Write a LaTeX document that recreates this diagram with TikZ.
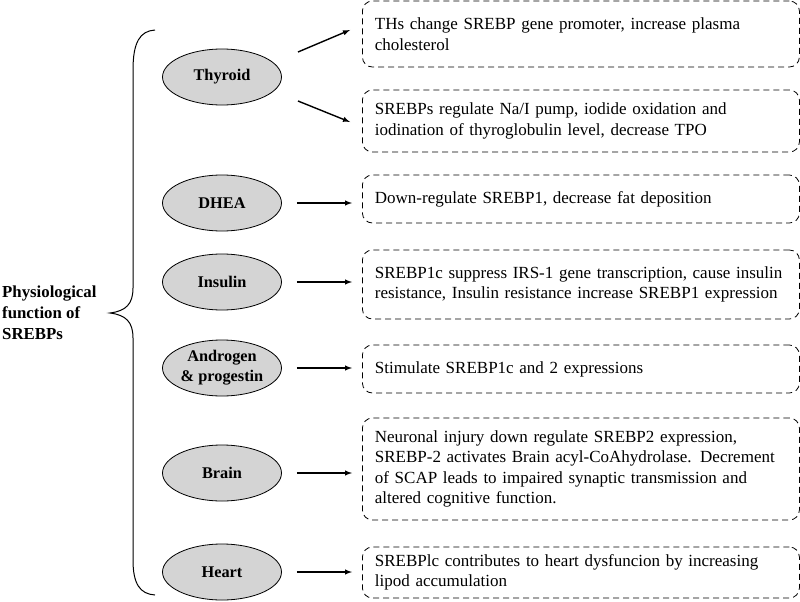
\documentclass[tikz,border=0pt]{standalone}
\usepackage{fontspec}
\setmainfont{Liberation Serif}
\newfontfamily\timesfont{Liberation Serif}
\usetikzlibrary{shapes.geometric}

\begin{document}
\begin{tikzpicture}[x=1pt,y=-1pt,
        organ/.style={ellipse,draw,fill=black!17,line width=0.8pt,minimum width=119pt,minimum height=56pt,inner sep=0pt,align=center,font=\timesfont\fontsize{16.3}{20}\selectfont\bfseries},
        effect/.style={draw,line width=0.8pt,dash pattern=on 6pt off 4pt,rounded corners=10pt,anchor=west,text width=412pt,inner xsep=12.5pt,inner ysep=0pt,align=left,font=\timesfont\fontsize{17}{20.5}\selectfont},
        arr/.style={-latex,line width=1.4pt}]
        \useasboundingbox (0,0) rectangle (800,602);
        % The brace and its label
        \draw[line width=1pt] (155,30) .. controls (140,31) and (133,42) .. (133,70) -- (133,288) .. controls (133,304) and (126,311) .. (110,313) .. controls (126,315) and (133,322) .. (133,338) -- (133,560) .. controls (133,584) and (140,594) .. (155,595);
        \node[anchor=west,align=left,inner sep=0pt,font=\timesfont\fontsize{16.8}{21}\selectfont\bfseries] (title) at (2,313) {Physiological\\function of\\SREBPs};
        % Organs and hormones
        \node[organ] (thyroid) at (222,77) {Thyroid};
        \node[organ] (dhea) at (222,203) {DHEA};
        \node[organ] (insulin) at (222,282) {Insulin};
        \node[organ] (androgen) at (222,368) {Androgen\\\& progestin};
        \node[organ] (brain) at (222,473) {Brain};
        \node[organ] (heart) at (222,572) {Heart};
        % Their effects
        \node[effect,minimum height=66pt] (thyA) at (362,34) {THs change SREBP gene promoter, increase plasma\\cholesterol};
        \node[effect,minimum height=62pt] (thyB) at (362,121) {SREBPs regulate Na/I pump, iodide oxidation and\\iodination of thyroglobulin level, decrease TPO};
        \node[effect,minimum height=48pt] (dheaE) at (362,199) {Down-regulate SREBP1, decrease fat deposition};
        \node[effect,minimum height=69pt] (insE) at (362,284.5) {SREBP1c suppress IRS-1 gene transcription, cause insulin\\resistance, Insulin resistance increase SREBP1 expression};
        \node[effect,minimum height=48pt] (andE) at (362,369) {Stimulate SREBP1c and 2 expressions};
        \node[effect,minimum height=102pt] (brainE) at (362,469) {Neuronal injury down regulate SREBP2 expression,\\SREBP-2 activates Brain acyl-CoAhydrolase. Decrement\\of SCAP leads to impaired synaptic transmission and\\altered cognitive function.};
        \node[effect,minimum height=51pt] (heartE) at (362,572.5) {SREBPlc contributes to heart dysfuncion by increasing\\lipod accumulation};
        % Arrows
        \coordinate (thyUp) at (298,52);
        \coordinate (thyDown) at (298,101);
        \coordinate (thyAin) at (350,30);
        \coordinate (thyBin) at (350,122);
        \draw[arr] (thyUp) -- (thyAin);
        \draw[arr] (thyDown) -- (thyBin);
        \draw[arr,shorten <=15pt,shorten >=10pt] (dhea.east) -- (dhea.east -| dheaE.west);
        \draw[arr,shorten <=15pt,shorten >=10pt] (insulin.east) -- (insulin.east -| insE.west);
        \draw[arr,shorten <=15pt,shorten >=10pt] (androgen.east) -- (androgen.east -| andE.west);
        \draw[arr,shorten <=15pt,shorten >=10pt] (brain.east) -- (brain.east -| brainE.west);
        \draw[arr,shorten <=15pt,shorten >=10pt] (heart.east) -- (heart.east -| heartE.west);
\end{tikzpicture}
\end{document}
